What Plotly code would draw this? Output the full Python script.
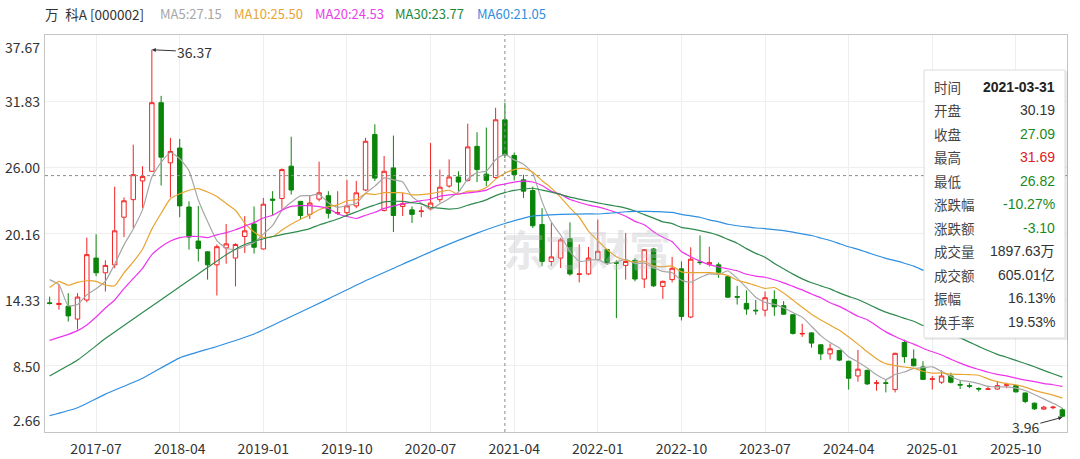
import plotly.graph_objects as go
import pandas as pd

# ---------------- data ----------------
months = pd.date_range("2017-02-01", periods=110, freq="MS").strftime("%Y-%m").tolist()

opens = [14.05, 13.9, 13.75, 12.62, 14.3, 18.0, 16.7, 17.4, 21.6, 23.15,
         24.8, 25.65, 31.7, 26.4, 27.7, 22.5, 19.5, 18.55, 17.4, 18.9,
         18.0, 19.9, 21.0, 18.8, 23.2, 23.25, 26.1, 23.0, 21.85, 23.2,
         23.5, 21.95, 22.0, 22.6, 24.0, 28.9, 22.2, 25.95, 22.55, 22.25,
         22.1, 22.35, 23.15, 24.35, 25.15, 24.85, 27.85, 25.4, 25.1, 30.19,
         27.05, 24.9, 23.95, 20.95, 17.7, 18.0, 19.7, 16.55, 16.6, 17.85,
         18.75, 17.6, 17.35, 17.8, 16.15, 18.8, 15.5, 16.1, 17.05, 12.8,
         17.65, 17.45, 17.4, 16.35, 14.6, 14.0, 13.4, 13.4, 14.35, 13.8,
         13.0, 11.3, 11.4, 10.35, 9.55, 9.85, 8.9, 7.6, 8.1, 6.95,
         7.0, 6.4, 10.55, 9.1, 8.4, 7.3, 7.05, 7.6, 6.85, 6.75,
         6.5, 6.42, 6.45, 6.78, 6.75, 6.1, 5.2, 4.68, 4.8, 4.62]
highs = [14.6, 15.7, 14.9, 14.9, 19.8, 20.1, 17.8, 24.3, 23.35, 28.0,
         26.1, 36.37, 32.3, 28.6, 28.5, 23.0, 22.6, 18.6, 19.2, 21.0,
         19.3, 21.7, 22.55, 23.3, 23.9, 25.9, 28.7, 23.0, 23.5, 26.5,
         23.9, 23.9, 24.9, 24.8, 28.6, 29.8, 27.0, 28.8, 23.75, 22.55,
         22.55, 28.15, 25.8, 26.7, 25.65, 29.85, 29.1, 29.5, 31.25, 31.69,
         27.3, 25.35, 24.3, 22.4, 21.1, 19.77, 21.15, 19.2, 18.98, 21.4,
         18.8, 17.8, 20.2, 18.0, 18.8, 18.9, 16.0, 18.1, 17.7, 18.95,
         20.0, 19.0, 17.6, 16.45, 15.55, 15.15, 14.3, 15.05, 15.15, 14.2,
         13.05, 12.2, 11.45, 10.4, 10.45, 9.9, 8.95, 9.9, 8.15, 7.25,
         7.3, 9.65, 10.8, 9.95, 8.9, 7.6, 8.1, 7.9, 7.2, 6.97,
         6.6, 6.73, 7.1, 7.0, 6.82, 6.14, 5.26, 4.97, 4.97, 4.76]
lows = [13.9, 13.45, 12.4, 11.7, 14.1, 16.4, 15.05, 17.1, 19.85, 20.65,
        22.4, 25.6, 24.4, 23.35, 21.6, 18.75, 17.7, 16.1, 14.7, 17.5,
        15.5, 18.45, 18.4, 18.75, 21.8, 22.3, 23.6, 21.4, 21.45, 23.0,
        21.5, 21.8, 21.8, 22.4, 23.9, 24.8, 22.1, 20.3, 21.7, 21.1,
        21.6, 22.2, 22.9, 24.2, 23.9, 24.75, 24.7, 24.35, 25.0, 26.82,
        24.85, 23.3, 20.65, 17.3, 17.3, 17.12, 16.45, 15.85, 16.5, 17.8,
        17.4, 12.7, 16.1, 15.95, 15.35, 15.45, 14.4, 15.85, 12.5, 12.7,
        17.4, 17.25, 16.25, 14.5, 13.9, 13.0, 13.0, 12.85, 12.9, 13.0,
        11.25, 11.05, 10.1, 9.0, 9.05, 8.9, 6.4, 7.1, 6.8, 6.3,
        6.15, 6.15, 8.75, 8.45, 7.25, 6.4, 6.9, 6.95, 6.45, 6.52,
        6.23, 6.38, 6.38, 6.52, 6.14, 5.2, 4.6, 4.62, 4.67, 3.96]
closes = [14.0, 14.0, 12.9, 14.56, 18.3, 16.7, 17.35, 20.4, 23.05, 25.35,
          25.2, 31.7, 26.9, 27.4, 22.6, 19.85, 18.85, 17.4, 19.0, 19.25,
          19.2, 20.4, 18.95, 22.75, 23.1, 25.8, 24.0, 21.75, 22.85, 23.75,
          21.95, 22.0, 22.6, 23.75, 28.3, 25.05, 25.65, 21.75, 22.8, 21.85,
          22.15, 22.85, 24.25, 25.15, 24.7, 27.8, 25.8, 24.85, 30.19, 27.09,
          25.35, 23.9, 20.85, 17.7, 18.1, 19.6, 16.6, 16.6, 18.0, 18.6,
          17.6, 17.55, 17.7, 16.15, 18.75, 15.55, 15.95, 17.1, 12.85, 17.9,
          17.6, 17.6, 16.75, 14.55, 14.55, 13.5, 13.35, 14.5, 13.7, 13.05,
          11.35, 11.35, 10.5, 9.55, 10.0, 9.0, 7.4, 8.2, 6.9, 7.0,
          6.95, 9.6, 9.3, 8.5, 7.3, 7.35, 7.6, 7.05, 6.8, 6.7,
          6.45, 6.46, 6.75, 6.82, 6.2, 5.35, 4.7, 4.85, 4.85, 4.05]

ma5_early_idx = [0, 1, 2, 3]
ma5_early = [16.1, 15.65, 13.8, 13.9]
ma10_early_idx = [0, 1, 2, 3, 4, 5, 6, 7, 8]
ma10_early = [15.4, 15.95, 15.6, 15.85, 16.0, 15.95, 15.6, 15.55, 16.7]
ma20_early_idx = list(range(19))
ma20_early = [10.74, 11.0, 11.27, 11.6, 12.1, 12.8, 13.6, 14.3, 15.3, 16.2,
              17.1, 18.3, 19.0, 19.5, 19.8, 19.9, 19.9, 19.8, 20.05]
ma30_early_idx = [0, 3, 6, 10, 13, 16, 19, 21, 24, 27, 28]
ma30_early = [7.6, 9.0, 10.9, 13.2, 14.9, 16.6, 18.3, 19.2, 19.9, 20.4, 20.6]
ma60_early_idx = [0, 3, 6, 10, 14, 18, 22, 26, 30, 34, 38, 42, 46, 49, 52, 55, 58]
ma60_early = [4.1, 4.8, 6.0, 7.4, 9.2, 10.2, 11.3, 12.85, 14.4, 16.0, 17.45,
              18.9, 20.2, 21.05, 21.7, 21.85, 21.9]

y_ticks = [2.66, 8.50, 14.33, 20.16, 26.00, 31.83, 37.67]
x_ticks = ["2017-07", "2018-04", "2019-01", "2019-10", "2020-07", "2021-04",
           "2022-01", "2022-10", "2023-07", "2024-04", "2025-01", "2025-10"]

tip_labels = ["时间", "开盘", "收盘", "最高", "最低", "涨跌幅", "涨跌额", "成交量", "成交额", "振幅", "换手率"]
tip_values = ["2021-03-31", "30.19", "27.09", "31.69", "26.82", "-10.27%", "-3.10",
              "1897.63万", "605.01亿", "16.13%", "19.53%"]
tip_colors = ["#222", "#333", "#1a8a1a", "#e02020", "#1a8a1a", "#1a8a1a", "#1a8a1a",
              "#333", "#333", "#333", "#333"]

ma_names = ["MA5", "MA10", "MA20", "MA30", "MA60"]
ma_title_vals = ["27.15", "25.50", "24.53", "23.77", "21.05"]
ma_colors = ["#a6a6a6", "#e8a531", "#ee33ee", "#2f8a4e", "#2f8fe0"]
ma_title_colors = ["#a6a6a6", "#e8a531", "#e83de8", "#1e8a3a", "#2f8fe0"]

cross_month_idx = 49
cross_price = 25.27

# ---------------- layout helpers ----------------
W, H = 1080, 459
L, R, T, B = 45, 1067, 35, 432


def px(x):
    return (x - L) / (R - L)


def py(y):
    return (B - y) / (B - T)


FONT = "Noto Sans CJK SC, Noto Sans, sans-serif"
TIPFONT = "Liberation Sans, Noto Sans CJK SC, sans-serif"

fig = go.Figure()

fig.add_trace(go.Candlestick(
    x=months, open=opens, high=highs, low=lows, close=closes,
    increasing=dict(line=dict(color="#f22323", width=1), fillcolor="#ffffff"),
    decreasing=dict(line=dict(color="#0a850a", width=1), fillcolor="#0a850a"),
    whiskerwidth=0, hoverinfo="skip", showlegend=False,
))

close_s = pd.Series(closes)
early = [(ma5_early_idx, ma5_early, 5), (ma10_early_idx, ma10_early, 10),
         (ma20_early_idx, ma20_early, 20), (ma30_early_idx, ma30_early, 30),
         (ma60_early_idx, ma60_early, 60)]
for (idx, vals, n), col in zip(early, ma_colors):
    comp = close_s.rolling(n).mean()
    xs = [months[i] for i in idx] + months[n - 1:]
    ys = list(vals) + comp.iloc[n - 1:].round(3).tolist()
    fig.add_trace(go.Scatter(x=xs, y=ys, mode="lines",
                             line=dict(color=col, width=1.2, shape="spline", smoothing=0.5),
                             hoverinfo="skip", showlegend=False))

shapes = []
# crosshair
shapes.append(dict(type="line", xref="x", yref="paper", x0=cross_month_idx, x1=cross_month_idx,
                   y0=0, y1=1, line=dict(color="#8a8a8a", width=1, dash="dot")))
shapes.append(dict(type="line", xref="paper", yref="y", x0=0, x1=1,
                   y0=cross_price, y1=cross_price, line=dict(color="#8a8a8a", width=1, dash="dot")))
# tooltip box (shadow + box)
shapes.append(dict(type="rect", xref="paper", yref="paper",
                   x0=px(925), x1=px(1068), y0=py(340), y1=py(71),
                   line=dict(width=0), fillcolor="rgba(0,0,0,0.07)"))
shapes.append(dict(type="rect", xref="paper", yref="paper",
                   x0=px(924), x1=px(1065), y0=py(338), y1=py(70),
                   line=dict(color="#dcdcdc", width=1), fillcolor="#ffffff"))

ann = []
# title row
ann.append(dict(xref="paper", yref="paper", x=px(43), y=py(14), xanchor="left", yanchor="middle",
                text="万\u2002科A [000002]", showarrow=False, font=dict(family=FONT, size=13.5, color="#333")))
title_x = [158, 232, 313, 393, 475]
for nm, v, c, x in zip(ma_names, ma_title_vals, ma_title_colors, title_x):
    ann.append(dict(xref="paper", yref="paper", x=px(x), y=py(14), xanchor="left", yanchor="middle",
                    text=f"{nm}:{v}", showarrow=False, font=dict(family=FONT, size=13, color=c)))

# y tick labels
for v in y_ticks:
    ya = "middle"
    if v == y_ticks[-1]:
        ya = "top"
    elif v == y_ticks[0]:
        ya = "bottom"
    ann.append(dict(xref="paper", yref="y", x=0, y=v, xanchor="right", yanchor=ya, xshift=-3,
                    text=f"{v:.2f}", showarrow=False, font=dict(family=FONT, size=14, color="#333")))

# tooltip rows
for k, (lab, val, col) in enumerate(zip(tip_labels, tip_values, tip_colors)):
    yy = py(86.7 + 23.5 * k)
    ann.append(dict(xref="paper", yref="paper", x=px(932), y=yy, xanchor="left", yanchor="middle",
                    text=lab, showarrow=False, font=dict(family=FONT, size=13.5, color="#444")))
    txt = f"<b>{val}</b>" if k == 0 else val
    ann.append(dict(xref="paper", yref="paper", x=px(1057), y=yy, xanchor="right", yanchor="middle",
                    text=txt, showarrow=False, font=dict(family=TIPFONT, size=14, color=col)))

# high / low markers
imax = highs.index(max(highs))
imin = lows.index(min(lows))
ann.append(dict(xref="x", yref="y", x=imax, y=max(highs), text=f"{max(highs):.2f}",
                showarrow=True, arrowhead=2, arrowsize=0.8, arrowwidth=1, arrowcolor="#333",
                ax=43, ay=2, standoff=0, font=dict(family=FONT, size=14, color="#333")))
ann.append(dict(xref="x", yref="y", x=imin, y=min(lows), text=f"{min(lows):.2f}",
                showarrow=True, arrowhead=2, arrowsize=0.8, arrowwidth=1, arrowcolor="#333",
                ax=-37, ay=10, standoff=0, font=dict(family=FONT, size=14, color="#333")))

# watermark
ann.append(dict(xref="paper", yref="paper", x=px(587), y=py(247), text="<b>东方财富</b>",
                showarrow=False, font=dict(family=FONT, size=42, color="rgba(190,190,195,0.35)")))

fig.update_layout(
    width=W, height=H, autosize=False,
    margin=dict(l=L, r=W - R, t=T, b=H - B, pad=0, autoexpand=False),
    paper_bgcolor="#ffffff", plot_bgcolor="#ffffff",
    showlegend=False,
    boxgap=0.32,
    shapes=shapes, annotations=ann,
    hovermode=False,
    xaxis=dict(type="category", range=[-0.5, len(months) - 0.5], rangeslider=dict(visible=False),
               automargin=False,
               tickmode="array", tickvals=x_ticks, ticktext=x_ticks,
               showgrid=True, gridcolor="#eeeeee", gridwidth=1,
               showline=True, mirror=True, linecolor="#c4c4c4", linewidth=1,
               ticks="outside", ticklen=4, tickcolor="rgba(0,0,0,0)",
               tickfont=dict(family=FONT, size=14, color="#333"), zeroline=False),
    yaxis=dict(range=[y_ticks[0], y_ticks[-1]], tickmode="array", tickvals=y_ticks,
               automargin=False,
               showticklabels=False, showgrid=True, gridcolor="#eeeeee", gridwidth=1,
               showline=True, mirror=True, linecolor="#c4c4c4", linewidth=1, zeroline=False),
)

fig.write_html("out.html", config={"displayModeBar": False, "responsive": False},
               post_script="document.body.style.margin='0';document.body.style.padding='0';")
